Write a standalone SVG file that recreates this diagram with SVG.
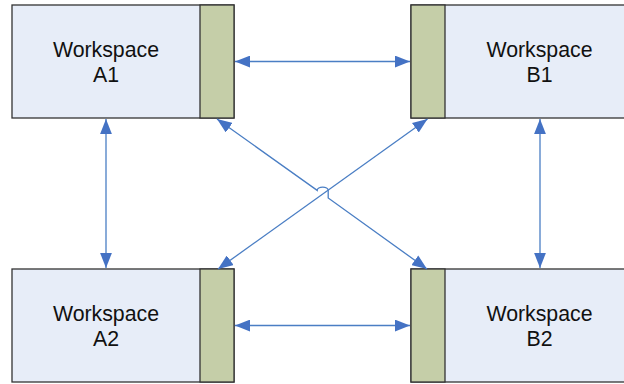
<svg xmlns="http://www.w3.org/2000/svg" width="624" height="384" viewBox="0 0 624 384">
<style>
.box{fill:#E7EDF8;stroke:#333;stroke-width:1.3}
.strip{fill:#C5CEA8;stroke:#333;stroke-width:1.3}
.lbl{font-family:"Liberation Sans",Arial,sans-serif;font-size:21.3px;fill:#111;text-anchor:middle}
.conn{fill:none;stroke:#4A7EC4;stroke-width:1.3;marker-start:url(#ah);marker-end:url(#ah)}
</style>
<defs>
<marker id="ah" markerUnits="userSpaceOnUse" markerWidth="15" markerHeight="12" viewBox="0 0 14 11" refX="14" refY="5.5" orient="auto-start-reverse">
<path d="M0,0 L14,5.5 L0,11 z" fill="#4472C4"/>
</marker>
</defs>
<rect width="624" height="384" fill="#fff"/>
<g id="A1">
<rect class="box" x="12" y="5" width="222" height="113"/>
<rect class="strip" x="200" y="5" width="34" height="113"/>
<text class="lbl" x="106" y="57">Workspace</text>
<text class="lbl" x="106" y="82">A1</text>
</g>
<g id="B1">
<rect class="box" x="411" y="5" width="230" height="113"/>
<rect class="strip" x="411" y="5" width="34" height="113"/>
<text class="lbl" x="539.5" y="57">Workspace</text>
<text class="lbl" x="539.5" y="82">B1</text>
</g>
<g id="A2">
<rect class="box" x="12" y="269" width="222" height="113"/>
<rect class="strip" x="200" y="269" width="34" height="113"/>
<text class="lbl" x="106" y="321">Workspace</text>
<text class="lbl" x="106" y="346">A2</text>
</g>
<g id="B2">
<rect class="box" x="411" y="269" width="230" height="113"/>
<rect class="strip" x="411" y="269" width="34" height="113"/>
<text class="lbl" x="539.5" y="321">Workspace</text>
<text class="lbl" x="539.5" y="346">B2</text>
</g>
<g id="connectors">
<path class="conn" d="M235,61.5 L410,61.5"/>
<path class="conn" d="M235,325.5 L410,325.5"/>
<path class="conn" d="M106,119 L106,268"/>
<path class="conn" d="M540,119 L540,268"/>
<path class="conn" d="M427.5,119 L218,269"/>
<path class="conn" d="M217,119 L317.2,190.4 A5.5,3.2 0 0 1 328.2,190.4 L328.2,198 L427,269"/>
</g>
</svg>
